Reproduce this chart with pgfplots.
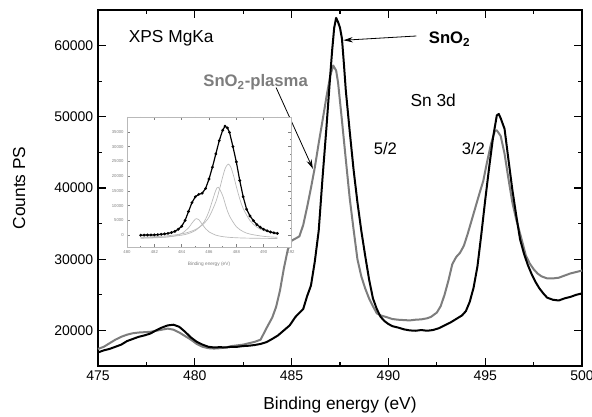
\documentclass[border=0pt]{standalone}
\usepackage{fontspec}
\setmainfont{Liberation Sans}
\usepackage{pgfplots}
\pgfplotsset{compat=1.18}
\usetikzlibrary{arrows.meta}

\definecolor{plasmagray}{RGB}{125,125,125}
\definecolor{fitgray}{RGB}{185,185,185}

\begin{document}
\begin{tikzpicture}
\path[use as bounding box] (-73.5pt,-38.25pt) rectangle (370.5pt,274.5pt);

% main spectrum
\begin{axis}[
  at={(0,0)}, anchor=south west,
  width=363pt, height=267pt, scale only axis,
  xmin=475, xmax=500, ymin=15000, ymax=65000,
  xtick={475,480,...,500}, ytick={20000,30000,...,60000},
  minor tick num=1,
  major tick length=6pt, minor tick length=3pt,
  tick style={black, line width=0.8pt},
  axis line style={line width=1pt},
  scaled ticks=false,
  /pgf/number format/1000 sep={},
  /pgf/number format/assume math mode=true,
  tick label style={font=\fontsize{10.5}{12}\selectfont},
  xlabel={Binding energy (eV)},
  ylabel={Counts PS},
  label style={font=\fontsize{13}{15}\selectfont},
  xlabel style={at={(axis description cs:0.5,-0.11)}, anchor=center},
  ylabel style={at={(axis description cs:-0.163,0.5)}, anchor=center},
  clip=false,
]
% SnO2-plasma
\addplot[plasmagray, line width=1.5pt, line join=round] coordinates {
(475.0,17400)(475.3,17700)(475.6,18200)(475.9,18700)(476.2,19100)(476.5,19400)
(476.8,19600)(477.1,19700)(477.4,19750)(477.7,19800)(478.0,19950)(478.3,20100)
(478.6,20250)(478.9,20100)(479.2,19700)(479.5,19200)(479.8,18700)(480.1,18100)
(480.4,17700)(480.7,17500)(481.0,17450)(481.3,17500)(481.6,17600)(481.9,17800)
(482.2,17900)(482.5,18000)(482.8,18200)(483.1,18400)(483.4,18700)(483.7,20300)
(484.0,21800)(484.2,23300)(484.4,25600)(484.6,28700)(484.8,31300)(485.0,32600)
(485.2,32900)(485.4,33200)(485.6,34800)(485.8,37300)(486.0,40000)(486.2,42900)
(486.4,46300)(486.6,49500)(486.8,52800)(487.0,55800)(487.15,57200)(487.3,56500)
(487.4,54800)(487.6,49500)(487.8,44000)(488.0,38600)(488.2,34200)(488.4,30000)
(488.6,27600)(488.8,25900)(489.0,24500)(489.2,23400)(489.4,22400)(489.6,22100)
(489.9,21870)(490.2,21600)(490.5,21500)(490.8,21450)(491.1,21400)(491.4,21500)
(491.7,21550)(492.0,21700)(492.2,21900)(492.5,22500)(492.7,23400)(492.9,25000)
(493.1,27000)(493.3,29300)(493.5,30300)(493.7,30900)(493.9,31900)(494.1,33600)
(494.4,36400)(494.7,39200)(494.9,41000)(495.1,43700)(495.3,46200)(495.5,48000)
(495.6,48100)(495.8,47300)(496.0,44800)(496.2,41300)(496.4,38000)(496.6,35600)
(496.9,32600)(497.1,30500)(497.3,29400)(497.5,28600)(497.7,28000)(497.9,27600)
(498.2,27300)(498.5,27300)(498.8,27400)(499.1,27700)(499.4,28000)(499.7,28200)
(500.0,28400)
};
% SnO2
\addplot[black, line width=1.5pt, line join=round] coordinates {
(475.0,16900)(475.3,17200)(475.6,17400)(475.9,17700)(476.2,18000)(476.5,18500)
(476.8,18800)(477.1,19100)(477.4,19300)(477.7,19550)(478.0,20000)(478.3,20400)
(478.6,20700)(478.9,20800)(479.2,20500)(479.5,19800)(479.8,19000)(480.1,18400)
(480.4,18000)(480.7,17700)(481.0,17600)(481.3,17650)(481.6,17600)(481.9,17700)
(482.2,17700)(482.5,17800)(482.8,17850)(483.1,17950)(483.4,18100)(483.7,18350)
(484.0,18800)(484.3,19300)(484.6,20000)(484.9,20700)(485.2,21900)(485.6,23000)
(485.8,24800)(486.0,26300)(486.2,29700)(486.4,34000)(486.6,41500)(486.8,48500)
(487.0,56000)(487.1,59500)(487.2,62500)(487.3,63900)(487.4,63300)(487.5,62500)
(487.6,61000)(487.7,57500)(487.8,53700)(488.0,48000)(488.2,42600)(488.4,38000)
(488.6,34000)(488.8,30500)(489.0,27200)(489.2,24500)(489.4,23000)(489.6,21900)
(489.8,21300)(490.0,20900)(490.2,20600)(490.5,20400)(490.8,20150)(491.1,20000)
(491.4,19950)(491.7,20050)(492.0,19950)(492.3,20050)(492.6,20300)(492.9,20700)
(493.2,21100)(493.5,21600)(493.8,22100)(494.0,22700)(494.2,24000)(494.4,26000)
(494.6,29000)(494.8,33500)(495.0,38300)(495.2,42800)(495.4,47000)(495.6,50200)
(495.7,50400)(495.8,49800)(496.0,48300)(496.2,44000)(496.4,39800)(496.6,36200)
(496.8,32800)(497.0,30800)(497.2,29200)(497.4,27900)(497.6,26800)(497.8,25900)
(498.0,25200)(498.2,24600)(498.5,24300)(498.8,24200)(499.1,24500)(499.4,24700)
(499.7,25000)(500.0,25200)
};

\node[anchor=west, font=\fontsize{13}{15}\selectfont] at (axis cs:476.35,61100) {XPS MgKa};
\node[anchor=west, font=\fontsize{12.5}{15}\selectfont\bfseries, text=plasmagray] at (axis cs:480.2,54800) {SnO\textsubscript{2}-plasma};
\node[anchor=west, font=\fontsize{12.5}{15}\selectfont\bfseries] at (axis cs:491.85,60900) {SnO\textsubscript{2}};
\node[anchor=west, font=\fontsize{13}{15}\selectfont] at (axis cs:490.9,52300) {Sn 3d};
\node[anchor=west, font=\fontsize{12.5}{15}\selectfont] at (axis cs:489.0,45500) {5/2};
\node[anchor=west, font=\fontsize{12.5}{15}\selectfont] at (axis cs:493.55,45500) {3/2};
\draw[line width=0.6pt, -{Stealth[length=7pt,width=4pt]}] (axis cs:491.45,61350) -- (axis cs:487.68,60750);
\draw[line width=0.6pt, -{Stealth[length=7pt,width=4pt]}] (axis cs:484.2,54100) -- (axis cs:486.1,42700);
\end{axis}

% inset with peak fit
\begin{axis}[
  at={(21.75pt,89.25pt)}, anchor=south west,
  width=123pt, height=97.5pt, scale only axis,
  xmin=480, xmax=492, ymin=-4000, ymax=40000,
  xtick={480,482,...,492}, ytick={0,5000,...,35000},
  minor tick num=1,
  major tick length=2pt, minor tick length=1pt,
  axis background/.style={fill=white},
  axis line style={fitgray, line width=0.5pt},
  tick style={gray, line width=0.3pt},
  scaled ticks=false,
  /pgf/number format/1000 sep={},
  /pgf/number format/assume math mode=true,
  tick label style={font=\fontsize{3.2}{3.5}\selectfont, text=gray},
  xticklabel style={yshift=1pt},
  yticklabel style={xshift=1pt},
  xlabel={Binding energy (eV)},
  xlabel style={font=\fontsize{3.6}{4}\selectfont, text=gray, at={(axis description cs:0.5,-0.08)}, anchor=north},
]
\addplot[fitgray, line width=0.5pt, smooth] coordinates {
(481,-1033)(482,-913)(483,-604)(483.5,-237)(484,562)(484.5,2472)(484.75,4071)
(485,5443)(485.1,5600)(485.25,5258)(485.5,3731)(485.75,2200)(486,1131)(486.5,6)
(487,-487)(487.5,-735)(488,-875)(488.5,-960)(489,-1016)(490,-1082)(491,-1118)
};
\addplot[fitgray, line width=0.5pt, smooth] coordinates {
(481,-917)(482,-787)(483,-541)(484,0)(484.5,554)(485,1562)(485.5,3620)(485.75,5434)
(486,8115)(486.25,11717)(486.5,15200)(486.68,16200)(487,13397)(487.25,9607)
(487.5,6492)(488,2875)(488.5,1210)(489,368)(490,-398)(491,-717)
};
\addplot[fitgray, line width=0.5pt, smooth] coordinates {
(481,-711)(482,-519)(483,-190)(484,440)(484.5,1006)(485,1892)(485.5,3393)(486,6111)
(486.5,11293)(486.75,15224)(487,19711)(487.2,22757)(487.41,24060)(487.6,22982)
(487.8,20064)(488,16464)(488.25,12301)(488.5,9039)(489,4931)(489.5,2753)(490,1522)(491,295)
};
\addplot[black, line width=0.9pt, mark=*, mark size=0.55pt] coordinates {
(481.0,0)(481.25,20)(481.5,50)(481.75,80)(482.0,100)(482.25,180)(482.5,300)
(482.75,430)(483.0,600)(483.25,900)(483.5,1300)(483.75,2000)(484.0,3000)
(484.25,5000)(484.5,8000)(484.75,11000)(485.0,13000)(485.25,13800)(485.5,14200)
(485.75,15800)(486.0,19000)(486.25,23000)(486.5,27500)(486.75,32000)(487.0,35500)
(487.17,36900)(487.35,36300)(487.5,34800)(487.75,30000)(488.0,24800)(488.25,18500)
(488.5,13000)(488.75,8800)(489.0,6500)(489.25,4900)(489.5,3600)(489.75,2700)
(490.0,2000)(490.25,1500)(490.5,1100)(490.75,800)(491.0,600)
};
\end{axis}
\end{tikzpicture}
\end{document}
